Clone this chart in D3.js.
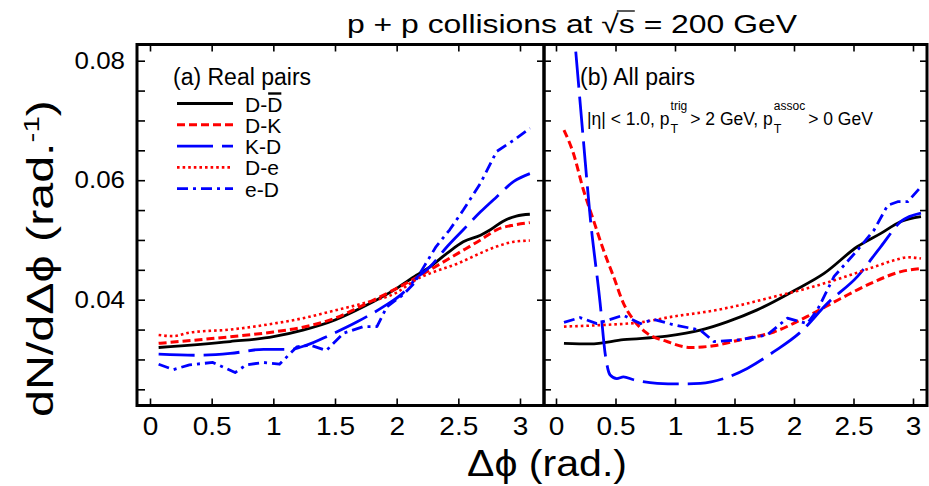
<!DOCTYPE html>
<html><head><meta charset="utf-8">
<script src="https://cdn.jsdelivr.net/npm/d3@7"></script>
<style>
body{margin:0;background:#fff}
svg{display:block}
text{font-family:"Liberation Sans",Arial,Helvetica,sans-serif;fill:#000}
</style>
</head><body>
<svg id="c" width="929" height="486"></svg>
<script>
// ---------------- data ----------------
const xTickValues = [0, 0.5, 1, 1.5, 2, 2.5, 3];
const xTickLabels = ["0", "0.5", "1", "1.5", "2", "2.5", "3"];
const yTickValues = [0.025, 0.03, 0.035, 0.04, 0.045, 0.05, 0.055, 0.06, 0.065, 0.07, 0.075, 0.08];
const yMajorValues = [0.04, 0.06, 0.08];
const yMajorLabels = ["0.04", "0.06", "0.08"];
const seriesNames = ["D-D", "D-K", "K-D", "D-e", "e-D"];

// (a) Real pairs  [Δφ, dN/dΔφ]
const realDD = [[0.07,0.0320],[0.65,0.0330],[1.0,0.0338],[1.24,0.0349],[1.5,0.0366],[1.73,0.0388],[2.0,0.0419],[2.16,0.0441],[2.27,0.0455],[2.41,0.0478],[2.54,0.0497],[2.68,0.0508],[2.76,0.0517],[2.86,0.0531],[2.97,0.0540],[3.08,0.0543]];
const realDK = [[0.07,0.0327],[0.65,0.0338],[1.0,0.0346],[1.24,0.0354],[1.5,0.0369],[1.73,0.0391],[2.0,0.0419],[2.16,0.0437],[2.27,0.0450],[2.5,0.0478],[2.68,0.0500],[2.81,0.0517],[2.95,0.0525],[3.08,0.0529]];
const realKD = [[0.07,0.0309],[0.38,0.0307],[0.65,0.0310],[0.92,0.0317],[1.14,0.0317],[1.27,0.0324],[1.46,0.0341],[1.68,0.0363],[1.89,0.0388],[2.05,0.0411],[2.16,0.0436],[2.27,0.0455],[2.41,0.0489],[2.54,0.0517],[2.68,0.0547],[2.81,0.0572],[2.95,0.0598],[3.08,0.0611]];
const realDe = [[0.07,0.0341],[0.19,0.0339],[0.32,0.0345],[0.65,0.0350],[1.0,0.0360],[1.24,0.0369],[1.5,0.0382],[1.73,0.0394],[2.0,0.0412],[2.16,0.0434],[2.27,0.0444],[2.5,0.0461],[2.68,0.0478],[2.81,0.0489],[2.95,0.0497],[3.08,0.0499]];
const realeD = [[0.07,0.0292],[0.19,0.0283],[0.32,0.0291],[0.51,0.0295],[0.69,0.0278],[0.78,0.0291],[0.92,0.0295],[1.05,0.0292],[1.19,0.0321],[1.30,0.0324],[1.43,0.0315],[1.57,0.0344],[1.73,0.0355],[1.84,0.0355],[1.92,0.0388],[2.05,0.0408],[2.14,0.0427],[2.22,0.0455],[2.32,0.0489],[2.43,0.0517],[2.54,0.0550],[2.68,0.0595],[2.81,0.0648],[2.95,0.0667],[3.08,0.0687]];

// (b) All pairs
const allDD = [[0.067,0.0327],[0.287,0.0326],[0.567,0.0333],[0.933,0.0339],[1.213,0.0349],[1.438,0.0363],[1.691,0.0383],[2.0,0.0415],[2.253,0.0444],[2.534,0.0489],[2.73,0.0511],[2.899,0.0531],[3.067,0.0539]];
const allDK = [[0.067,0.0684],[0.146,0.0645],[0.230,0.0584],[0.315,0.0533],[0.399,0.0483],[0.483,0.0439],[0.567,0.0394],[0.652,0.0366],[0.764,0.0344],[0.933,0.0330],[1.129,0.0320],[1.326,0.0323],[1.551,0.0333],[1.831,0.0346],[2.112,0.0372],[2.393,0.0402],[2.674,0.0430],[2.899,0.0447],[3.067,0.0452]];
const allKD = [[0.067,0.104],[0.16,0.0829],[0.230,0.0667],[0.287,0.0539],[0.371,0.0394],[0.413,0.0310],[0.455,0.0274],[0.511,0.0268],[0.567,0.0271],[0.652,0.0266],[0.851,0.0260],[1.045,0.0259],[1.213,0.0260],[1.410,0.0268],[1.607,0.0285],[1.831,0.0313],[2.056,0.0346],[2.281,0.0394],[2.534,0.0439],[2.730,0.0489],[2.899,0.0531],[3.067,0.0545]];
const allDe = [[0.067,0.0355],[0.427,0.0358],[0.708,0.0362],[0.989,0.0372],[1.270,0.0380],[1.551,0.0391],[1.831,0.0405],[2.112,0.0419],[2.393,0.0436],[2.674,0.0455],[2.843,0.0466],[2.955,0.0471],[3.067,0.0469]];
const alleD = [[0.067,0.0362],[0.202,0.0370],[0.343,0.0360],[0.567,0.0374],[0.708,0.0360],[0.820,0.0367],[0.989,0.0358],[1.213,0.0349],[1.326,0.0330],[1.551,0.0333],[1.775,0.0341],[1.944,0.0369],[2.112,0.0360],[2.197,0.0383],[2.337,0.0439],[2.534,0.0483],[2.674,0.0517],[2.787,0.0558],[2.871,0.0564],[2.955,0.0564],[3.067,0.0589]];

// ---------------- styles ----------------
const styles = [
  {color:"#000000", dash:null,        width:2.8, curve:d3.curveMonotoneX},
  {color:"#ff0000", dash:"8,4",       width:3,   curve:d3.curveMonotoneX},
  {color:"#0000ff", dash:"36,9",      width:2.8, curve:d3.curveMonotoneX},
  {color:"#ff0000", dash:"2.6,3",     width:2.6, curve:d3.curveMonotoneX},
  {color:"#0000ff", dash:"11,5,3,5",  width:2.8, curve:d3.curveLinear}
];

// ---------------- layout ----------------
const svg = d3.select("#c");
const frame = {left:137, mid:544, right:927, top:44.5, bottom:405.5};
const xL = d3.scaleLinear().domain([0,3]).range([150,520]);
const xR = d3.scaleLinear().domain([0,3]).range([556,913]);
const y  = d3.scaleLinear().domain([0.04,0.08]).range([299.7,60.7]);
const PHI = "\u03D5";

function stretch(sel, f){
  sel.each(function(){
    const w = this.getComputedTextLength();
    d3.select(this).attr("textLength", w*f).attr("lengthAdjust","spacingAndGlyphs");
  });
}

const defs = svg.append("defs");
defs.append("clipPath").attr("id","clipL").append("rect")
  .attr("x",frame.left).attr("y",frame.top).attr("width",frame.mid-frame.left).attr("height",frame.bottom-frame.top);
defs.append("clipPath").attr("id","clipR").append("rect")
  .attr("x",frame.mid).attr("y",frame.top).attr("width",frame.right-frame.mid).attr("height",frame.bottom-frame.top);

// curves
function drawPanel(x, clip, sets){
  const g = svg.append("g").attr("clip-path","url(#"+clip+")");
  sets.forEach((d,i)=>{
    const s = styles[i];
    const line = d3.line().x(p=>x(p[0])).y(p=>y(p[1])).curve(s.curve);
    g.append("path").datum(d).attr("d",line).attr("fill","none")
      .attr("stroke",s.color).attr("stroke-width",s.width)
      .attr("stroke-dasharray",s.dash).attr("stroke-linejoin","round");
  });
}
drawPanel(xL,"clipL",[realDD,realDK,realKD,realDe,realeD]);
drawPanel(xR,"clipR",[allDD,allDK,allKD,allDe,alleD]);

// axes
function styleAxis(g){
  g.select(".domain").remove();
  g.selectAll(".tick line").attr("stroke","#000").attr("stroke-width",1.6);
  g.selectAll("text").style("font-size","25px").attr("fill","#000");
}
[xL,xR].forEach(x=>{
  const gb = svg.append("g").attr("transform",`translate(0,${frame.bottom})`)
    .call(d3.axisBottom(x).tickValues(xTickValues).tickSize(-7).tickPadding(11.5)
      .tickFormat((d,i)=>xTickLabels[i]));
  styleAxis(gb);
  stretch(gb.selectAll("text"),1.12);
  const gt = svg.append("g").attr("transform",`translate(0,${frame.top})`)
    .call(d3.axisTop(x).tickValues(xTickValues).tickSize(-7).tickFormat(""));
  styleAxis(gt);
});
const gl = svg.append("g").attr("transform",`translate(${frame.left},0)`)
  .call(d3.axisLeft(y).tickValues(yTickValues).tickSize(-8).tickPadding(12)
    .tickFormat(d=>{const k=yMajorValues.findIndex(v=>Math.abs(v-d)<1e-9);return k>=0?yMajorLabels[k]:"";}));
styleAxis(gl);
gl.selectAll("text").style("font-size","24px");
stretch(gl.selectAll("text"),1.08);
const gm1 = svg.append("g").attr("transform",`translate(${frame.mid},0)`)
  .call(d3.axisRight(y).tickValues(yMajorValues).tickSize(-7).tickFormat(""));
styleAxis(gm1);
const gm2 = svg.append("g").attr("transform",`translate(${frame.mid},0)`)
  .call(d3.axisLeft(y).tickValues(yTickValues).tickSize(-7).tickFormat(""));
styleAxis(gm2);
const gr = svg.append("g").attr("transform",`translate(${frame.right},0)`)
  .call(d3.axisRight(y).tickValues(yTickValues).tickSize(-7).tickFormat(""));
styleAxis(gr);

// frame
svg.append("rect").attr("x",frame.left).attr("y",frame.top)
  .attr("width",frame.right-frame.left).attr("height",frame.bottom-frame.top)
  .attr("fill","none").attr("stroke","#000").attr("stroke-width",3);
svg.append("line").attr("x1",frame.mid).attr("x2",frame.mid).attr("y1",frame.top).attr("y2",frame.bottom)
  .attr("stroke","#000").attr("stroke-width",3.5);

// title
const title = svg.append("text").attr("x",347).attr("y",33).style("font-size","26px");
title.append("tspan").text("p + p collisions at ");
title.append("tspan").text("\u221A");
title.append("tspan").text("s");
title.append("tspan").text(" = 200 GeV");
title.attr("textLength",450).attr("lengthAdjust","spacingAndGlyphs");
{
  const txt = title.node();
  const idx = "p + p collisions at \u221A".length;
  const eRoot = txt.getExtentOfChar(idx-1);
  const eS = txt.getExtentOfChar(idx);
  svg.append("line").attr("x1",eRoot.x+eRoot.width-2).attr("x2",eS.x+eS.width)
    .attr("y1",eRoot.y+2).attr("y2",eRoot.y+2).attr("stroke","#000").attr("stroke-width",1.3);
}

// y label
const yl = svg.append("text").attr("transform","translate(53,258.5) rotate(-90)")
  .attr("text-anchor","middle").style("font-size","36px");
yl.append("tspan").text("dN/d\u0394" + PHI + " (rad.");
yl.append("tspan").attr("dy",-14).style("font-size","22px").text("-1");
yl.append("tspan").attr("dy",14).text(")");
yl.attr("textLength",317).attr("lengthAdjust","spacingAndGlyphs");

// x label
svg.append("text").attr("x",467).attr("y",476).style("font-size","36px")
  .attr("textLength",160).attr("lengthAdjust","spacingAndGlyphs")
  .text("\u0394" + PHI + " (rad.)");

// panel labels
svg.append("text").attr("x",173).attr("y",85).style("font-size","23px").text("(a) Real pairs");
svg.append("text").attr("x",580).attr("y",85).style("font-size","23px").text("(b) All pairs");

// legend
const leg = svg.append("g");
seriesNames.forEach((n,i)=>{
  const s = styles[i];
  const yy = 103.5 + i*21.3;
  leg.append("line").attr("x1",177).attr("x2",233).attr("y1",yy).attr("y2",yy)
    .attr("stroke",s.color).attr("stroke-width",s.width).attr("stroke-dasharray",s.dash);
  const t = leg.append("text").attr("x",245).attr("y",yy+8).style("font-size","21px").text(n);
  if(i===0){
    const e = t.node().getExtentOfChar(2);
    leg.append("line").attr("x1",e.x+1).attr("x2",e.x+e.width-1)
      .attr("y1",e.y+1).attr("y2",e.y+1).attr("stroke","#000").attr("stroke-width",2.4);
  }
});

// cuts annotation
{
  const base = 125, x0 = 587;
  const g = svg.append("g");
  let x = x0;
  function put(str, size, yy, xx){
    const t = g.append("text").attr("x",xx).attr("y",yy).style("font-size",size+"px").text(str);
    return t.node().getComputedTextLength();
  }
  x += put("|\u03B7| < 1.0, p", 17.5, base, x);
  let w1 = put("T", 12.5, base+8, x+1);
  let w2 = put("trig", 12, base-15, x+1);
  x += Math.max(w1,w2) + 4;
  x += put(" > 2 GeV, p", 17.5, base, x);
  w1 = put("T", 12.5, base+8, x+1);
  w2 = put("assoc", 12, base-15, x+1);
  x += Math.max(w1,w2) + 4;
  put(" > 0 GeV", 17.5, base, x);
}
</script>
</body></html>
